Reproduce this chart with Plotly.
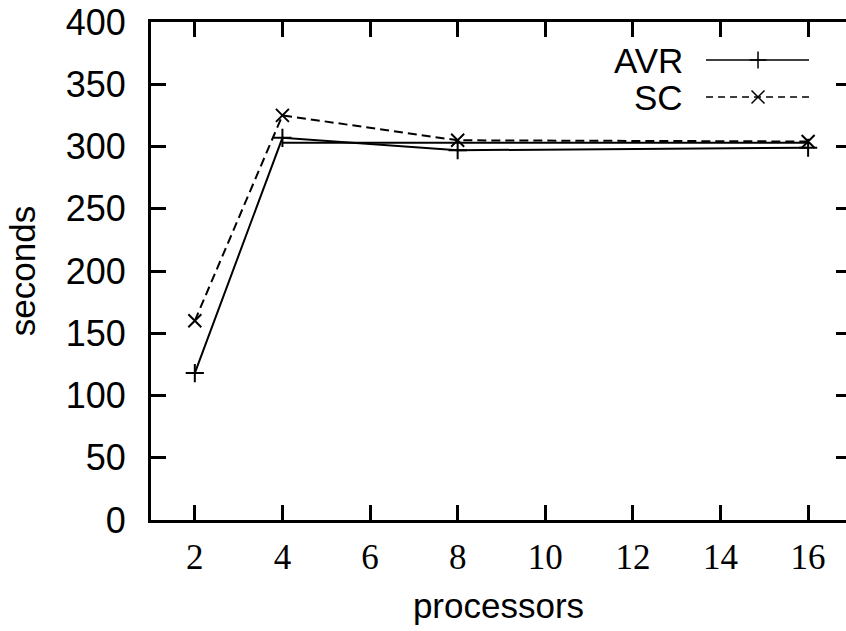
import plotly.graph_objects as go

# processor counts and run times (seconds)
processors = [2, 4, 8, 16]
avr_seconds = [118, 307, 297, 299]
sc_seconds = [160, 325, 305, 304]

# flat solid reference level drawn from 4 to 16 processors
level_x = [4, 16]
level_seconds = [303, 303]

x_ticks = [2, 4, 6, 8, 10, 12, 14, 16]
y_ticks = [0, 50, 100, 150, 200, 250, 300, 350, 400]

series_names = ["AVR", "SC"]

SANS = "Liberation Sans, Arial, Helvetica, sans-serif"
SERIF = "Liberation Serif, Times New Roman, serif"
INK = "#000000"

fig = go.Figure()

fig.add_trace(go.Scatter(
    x=level_x, y=level_seconds, mode="lines",
    line=dict(color=INK, width=2), showlegend=False, hoverinfo="skip",
))
fig.add_trace(go.Scatter(
    x=processors, y=avr_seconds, mode="lines+markers", name=series_names[0],
    line=dict(color=INK, width=2),
    marker=dict(symbol="cross-thin-open", size=13, color=INK,
                line=dict(color=INK, width=2)),
    showlegend=False,
))
fig.add_trace(go.Scatter(
    x=processors, y=sc_seconds, mode="lines+markers", name=series_names[1],
    line=dict(color=INK, width=2, dash="9px,5px"),
    marker=dict(symbol="x-thin-open", size=13, color=INK,
                line=dict(color=INK, width=2)),
    showlegend=False,
))

# key samples on a unit overlay frame: line to the right of the label
key_rows = [0.9237, 0.8494]
key_x0, key_x1, key_mid = 0.7986, 0.9468, 0.8734
key_text_x = 0.7685
key_styles = [
    dict(line=dict(color=INK, width=1.5), symbol="cross-thin-open", size=12),
    dict(line=dict(color=INK, width=1.5, dash="7px,5px"), symbol="x-thin-open", size=13),
]
for row_y, style, label in zip(key_rows, key_styles, series_names):
    fig.add_trace(go.Scatter(
        x=[key_x0, key_x1], y=[row_y, row_y], mode="lines",
        line=style["line"], xaxis="x3", yaxis="y3",
        showlegend=False, hoverinfo="skip",
    ))
    fig.add_trace(go.Scatter(
        x=[key_mid], y=[row_y], mode="markers",
        marker=dict(symbol=style["symbol"], size=style["size"], color=INK,
                    line=dict(color=INK, width=1.5)),
        xaxis="x3", yaxis="y3", showlegend=False, hoverinfo="skip",
    ))
    fig.add_annotation(
        x=key_text_x, y=row_y, xref="x3", yref="y3", text=label,
        showarrow=False, xanchor="right", yanchor="middle",
        font=dict(family=SANS, size=35, color=INK),
    )

fig.update_layout(
    width=846, height=631,
    margin=dict(l=151, r=0, t=22, b=111),
    paper_bgcolor="white", plot_bgcolor="white",
    showlegend=False,
    xaxis=dict(
        range=[1, 16.865], tickvals=x_ticks, ticktext=[str(v) for v in x_ticks],
        ticks="inside", ticklen=15, tickwidth=3, tickcolor=INK,
        showline=True, linewidth=3, linecolor=INK, mirror="ticks",
        showgrid=False, zeroline=False,
        tickfont=dict(family=SERIF, size=35, color=INK),
        ticklabelstandoff=4,
        title=dict(text="processors", font=dict(family=SANS, size=35, color=INK),
                   standoff=18),
    ),
    yaxis=dict(
        range=[0, 400], tickvals=y_ticks,
        ticks="inside", ticklen=15, tickwidth=3, tickcolor=INK,
        showline=True, linewidth=3, linecolor=INK, mirror=False,
        showgrid=False, zeroline=False,
        tickfont=dict(family=SANS, size=36, color=INK),
        ticklabelstandoff=15,
        title=dict(text="seconds", font=dict(family=SANS, size=35, color=INK),
                   standoff=20),
    ),
    yaxis2=dict(
        range=[0, 400], tickvals=y_ticks, overlaying="y", side="right",
        ticks="inside", ticklen=10, tickwidth=3, tickcolor=INK,
        showline=False, showgrid=False, zeroline=False, showticklabels=False,
    ),
    xaxis3=dict(range=[0, 1], overlaying="x", visible=False),
    yaxis3=dict(range=[0, 1], overlaying="y", visible=False),
)

# attach the right-hand tick axis
fig.add_trace(go.Scatter(x=[], y=[], yaxis="y2", showlegend=False, hoverinfo="skip"))

fig.write_html("out.html")
